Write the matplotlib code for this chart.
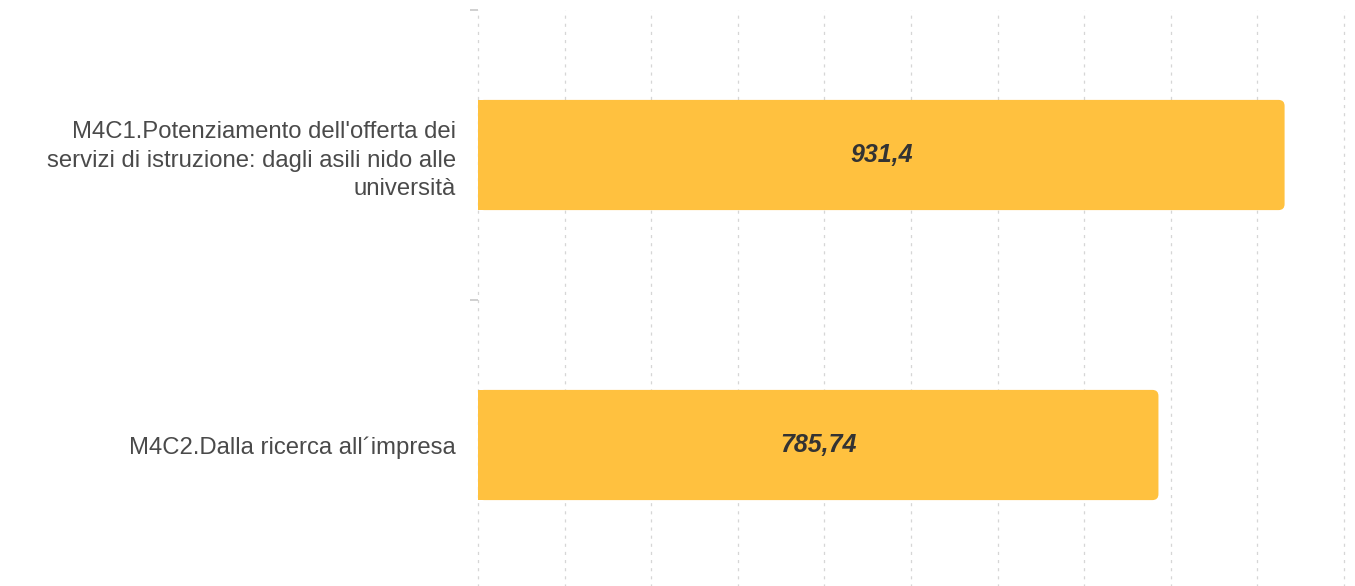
import matplotlib.pyplot as plt
from matplotlib.patches import FancyBboxPatch

# === DATA ===
categories = [
    "M4C1.Potenziamento dell'offerta dei\nservizi di istruzione: dagli asili nido alle\nuniversità",
    "M4C2.Dalla ricerca all\u00b4impresa",
]
values = [931.4, 785.74]
value_labels = ["931,4", "785,74"]

BAR_COLOR = "#FFC13F"
BAR_H = 0.38
R = 7  # corner radius in x data units (~6px)

fig = plt.figure(figsize=(13.55, 5.86), dpi=100)
# plot area: x from 478px to 1344px, top at 10px, bands of 290px
ax = fig.add_axes([478 / 1355, -4 / 586, (1344 - 478) / 1355, 580 / 586])

ax.set_xlim(0, 1000)
ax.set_ylim(1.5, -0.5)

ypos = list(range(len(categories)))
# square left part + rounded right end
ax.barh(ypos, [v - 2 * R for v in values], height=BAR_H, color=BAR_COLOR, zorder=2)
aspect = (1 / 290) / (1000 / 866)
for y, v in zip(ypos, values):
    ax.add_patch(FancyBboxPatch((0, y - BAR_H / 2), v, BAR_H,
                                boxstyle=f"round,pad=0,rounding_size={R}",
                                mutation_aspect=aspect, fc=BAR_COLOR, ec="none", zorder=2))

for y, v, lab in zip(ypos, values, value_labels):
    ax.text(v / 2, y, lab, ha="center", va="center", fontsize=18,
            fontweight="bold", fontstyle="italic", family="Liberation Sans",
            color="#333333", zorder=3)

ax.set_xticks(range(0, 1001, 100))
ax.xaxis.grid(True, color="#d6d6d6", linestyle=(0, (2.5, 4)), linewidth=0.9, zorder=0)
for gl in ax.get_xgridlines():
    gl.set_clip_on(False)
ax.tick_params(axis="x", length=0, labelbottom=False)

ax.set_yticks(ypos)
ax.set_yticklabels(categories, fontsize=17.2, family="Liberation Sans",
                   color="#4a4a4a", linespacing=1.38)
ax.set_yticks([-0.5, 0.5, 1.5], minor=True)
ax.tick_params(axis="y", which="major", length=0, pad=16)
ax.tick_params(axis="y", which="minor", length=6, width=1.2, color="#c8c8c8", pad=2)

for s in ax.spines.values():
    s.set_visible(False)

fig.savefig("out.png", dpi=100)
